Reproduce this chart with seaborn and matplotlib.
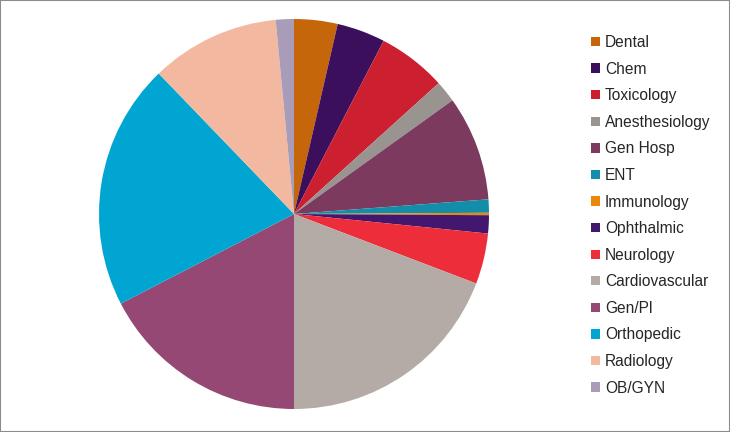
import matplotlib
matplotlib.use("Agg")
import matplotlib.pyplot as plt
import seaborn as sns
from matplotlib.patches import Rectangle, Patch

sns.set_style("white")
plt.rcParams["font.family"] = ["Liberation Sans", "DejaVu Sans"]

# share of each specialty (percent)
categories = ["Dental", "Chem", "Toxicology", "Anesthesiology", "Gen Hosp", "ENT",
              "Immunology", "Ophthalmic", "Neurology", "Cardiovascular", "Gen/Pl",
              "Orthopedic", "Radiology", "OB/GYN"]
shares = [3.6, 4.0, 5.7, 1.8, 8.7, 1.1, 0.2, 1.5, 4.2, 19.2, 17.4, 20.4, 10.7, 1.5]
colors = ["#C5660B", "#3B0F5C", "#CC2030", "#9A9490", "#7B3A5E", "#138EAA", "#E8890C",
          "#43176E", "#EE2D3B", "#B4ABA6", "#954874", "#00A6D1", "#F3B9A0", "#A89CB8"]

fig = plt.figure(figsize=(7.3, 4.32), dpi=100)
ax = fig.add_axes([99 / 730, 23 / 432, 390 / 730, 390 / 432])
ax.pie(shares, colors=colors, startangle=90, counterclock=False,
       wedgeprops=dict(linewidth=0))
ax.set_xlim(-1, 1)
ax.set_ylim(-1, 1)
ax.set_aspect("equal")
ax.axis("off")

handles = [Patch(facecolor=c, edgecolor="none") for c in colors]
fig.legend(handles, categories, loc="upper left", bbox_to_anchor=(591 / 730, 1 - 35 / 432),
           frameon=False, fontsize=11.2, handlelength=0.55, handleheight=0.55,
           handletextpad=0.35, labelspacing=0.745, borderaxespad=0, borderpad=0)

fig.patches.append(Rectangle((0, 0), 1, 1, transform=fig.transFigure, fill=False,
                             edgecolor="#8C8C8C", linewidth=1.5))

fig.savefig("out.png", dpi=100)
